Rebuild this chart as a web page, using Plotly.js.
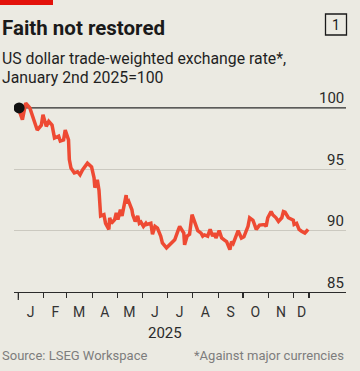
<!DOCTYPE html>
<html>
<head>
<meta charset="utf-8">
<script src="https://cdn.plot.ly/plotly-3.0.1.min.js"></script>
<style>
html,body{margin:0;padding:0;background:#ebeae2;}
#chart{width:360px;height:371px;}
</style>
</head>
<body>
<div id="chart"></div>
<script>
// ---- data ----
const dates = [
 '2025-01-02','2025-01-03','2025-01-06','2025-01-10','2025-01-15','2025-01-17','2025-01-21','2025-01-24','2025-01-29','2025-01-31',
 '2025-02-04','2025-02-07','2025-02-11','2025-02-13','2025-02-14','2025-02-19','2025-02-21','2025-02-25','2025-02-27',
 '2025-03-03','2025-03-04','2025-03-06','2025-03-10','2025-03-14','2025-03-17','2025-03-20','2025-03-26','2025-03-31',
 '2025-04-03','2025-04-04','2025-04-07','2025-04-09','2025-04-11','2025-04-15','2025-04-17','2025-04-21','2025-04-22','2025-04-24','2025-04-28','2025-04-30',
 '2025-05-02','2025-05-05','2025-05-07','2025-05-12','2025-05-13','2025-05-15','2025-05-19','2025-05-20','2025-05-23','2025-05-26','2025-05-28','2025-05-30',
 '2025-06-02','2025-06-05','2025-06-06','2025-06-11','2025-06-13','2025-06-16','2025-06-19','2025-06-23','2025-06-25','2025-06-30',
 '2025-07-03','2025-07-07','2025-07-10','2025-07-14','2025-07-16','2025-07-21','2025-07-22','2025-07-25','2025-07-28','2025-07-31',
 '2025-08-04','2025-08-07','2025-08-11','2025-08-13','2025-08-15','2025-08-19','2025-08-22','2025-08-25','2025-08-27','2025-08-29',
 '2025-09-02','2025-09-05','2025-09-08','2025-09-11','2025-09-15','2025-09-17','2025-09-19','2025-09-23','2025-09-25','2025-09-29',
 '2025-10-02','2025-10-07','2025-10-09','2025-10-13','2025-10-15','2025-10-17','2025-10-21','2025-10-24','2025-10-27','2025-10-29','2025-10-31',
 '2025-11-04','2025-11-06','2025-11-10','2025-11-13','2025-11-17','2025-11-19','2025-11-21','2025-11-25',
 '2025-12-01','2025-12-02','2025-12-05','2025-12-08','2025-12-11','2025-12-15','2025-12-17','2025-12-19'
];
const values = [
 100.0,99.6,99.05,100.4,100.0,99.6,98.9,98.2,98.6,99.45,
 98.5,98.9,98.6,98.0,97.55,97.7,97.3,97.4,98.2,
 97.4,95.8,95.1,94.7,94.8,94.55,94.95,95.5,95.2,
 94.3,93.5,94.15,93.3,91.2,91.3,90.6,90.1,91.05,90.6,90.9,91.45,
 90.9,91.7,91.2,92.9,92.25,92.4,91.7,91.3,90.75,91.2,90.6,90.7,
 90.35,90.6,90.5,90.6,89.7,90.35,90.2,89.55,89.0,88.6,
 88.8,89.1,89.25,90.0,90.35,89.8,88.85,89.55,89.7,91.3,
 90.5,90.0,89.8,89.55,89.65,89.55,90.1,89.55,89.8,89.4,
 90.0,89.4,89.25,89.1,88.45,89.1,88.95,89.55,90.0,89.4,
 89.5,90.35,91.05,90.85,90.35,90.1,90.45,90.5,90.5,90.35,91.05,
 91.55,91.3,91.05,90.75,91.05,91.55,91.5,91.05,
 90.85,90.5,90.6,90.1,89.95,89.8,89.95,90.1
];
const monthStarts = ['2025-01-01','2025-02-01','2025-03-01','2025-04-01','2025-05-01','2025-06-01',
  '2025-07-01','2025-08-01','2025-09-01','2025-10-01','2025-11-01','2025-12-01','2025-12-20'];
const monthMids = ['2025-01-16','2025-02-15','2025-03-16','2025-04-16','2025-05-16','2025-06-16',
  '2025-07-16','2025-08-16','2025-09-16','2025-10-16','2025-11-16','2025-12-11'];
const monthLabels = ['J','F','M','A','M','J','J','A','S','O','N','D'];
const yTicks = [85, 90, 95, 100];
const yearLabel = '2025';
const baseValue = 100;

// ---- layout helpers ----
const W = 360, H = 371, T = 92, B = 79;
const PH = H - T - B;
const py = p => (H - B - p) / PH;   // pixel y -> paper y
const FONT = 'Roboto, sans-serif';
const xRange = ['2024-12-26 19:00', '2026-02-03 00:00'];

const traces = [
  {x: dates, y: values, type: 'scatter', mode: 'lines',
   line: {color: '#ee4a33', width: 3.5, shape: 'linear'}, hoverinfo: 'skip'},
  {x: [dates[0]], y: [values[0]], type: 'scatter', mode: 'markers',
   marker: {color: '#111111', size: 11}, hoverinfo: 'skip'}
];

const annotations = [];
function txt(text, x, yp, size, opts) {
  annotations.push(Object.assign({
    text: text, xref: 'paper', yref: 'paper', x: x, y: py(yp),
    xanchor: 'left', yanchor: 'middle', showarrow: false,
    font: {family: FONT, size: size, color: '#1a1a1a'}
  }, opts || {}));
}
txt('<b>Faith not restored</b>', -14/332, 27.5, 20.5);
txt('US dollar trade-weighted exchange rate*,', -14/332, 58, 15.8, {font:{family:FONT,size:15.8,color:'#1f1f1f'}});
txt('January 2nd 2025=100', -14/332, 77, 15.8, {font:{family:FONT,size:15.8,color:'#1f1f1f'}});
txt('1', (336-14)/332, 25, 14, {xanchor:'center'});
txt(yearLabel, (165-14)/332, 332.5, 15, {xanchor:'center', font:{family:FONT,size:15,color:'#2a2a2a'}});
txt('Source: LSEG Workspace', -14/332, 355, 13, {font:{family:FONT,size:13,color:'#7d7d7d'}});
txt('*Against major currencies', 1, 355, 13, {xanchor:'right', font:{family:FONT,size:13,color:'#7d7d7d'}});
yTicks.forEach(v => annotations.push({
  text: String(v), xref: 'paper', yref: 'y', x: 1, y: v, xanchor: 'right', yanchor: 'middle',
  yshift: 9.5, showarrow: false, font: {family: FONT, size: 15, color: '#2a2a2a'}
}));

const shapes = [
  {type: 'rect', xref: 'paper', yref: 'paper', x0: -14/332, x1: (53-14)/332, y0: py(5), y1: py(-1),
   fillcolor: '#e3120b', line: {width: 0}},
  {type: 'rect', xref: 'paper', yref: 'paper', x0: (325.5-14)/332, x1: (346.5-14)/332, y0: py(35), y1: py(14),
   fillcolor: 'rgba(0,0,0,0)', line: {color: '#1a1a1a', width: 1.3}},
  {type: 'line', xref: 'x', yref: 'y', x0: dates[0], x1: xRange[1], y0: baseValue, y1: baseValue,
   line: {color: '#2b2b2b', width: 1.3}, layer: 'below'},
  {type: 'line', xref: 'x', yref: 'paper', x0: monthStarts[0], x1: monthStarts[0], y0: 0, y1: -8/PH,
   line: {color: '#2b2b2b', width: 1.2}}
];

const layout = {
  width: W, height: H,
  margin: {l: 14, r: 14, t: T, b: B, pad: 0},
  paper_bgcolor: '#ebeae2', plot_bgcolor: '#ebeae2',
  showlegend: false,
  xaxis: {
    type: 'date', range: xRange, fixedrange: true,
    tickmode: 'array', tickvals: monthMids, ticktext: monthLabels,
    ticks: '', ticklabelstandoff: 7,
    tickfont: {family: FONT, size: 14, color: '#333333'},
    showgrid: false, zeroline: false,
    showline: true, linecolor: '#2b2b2b', linewidth: 1.3,
    minor: {tickmode: 'array', tickvals: monthStarts, ticks: 'outside', ticklen: 5,
            tickwidth: 1.2, tickcolor: '#2b2b2b', showgrid: false}
  },
  yaxis: {
    range: [85, 85 + PH / 12.27], fixedrange: true,
    tickmode: 'array', tickvals: [85, 90, 95],
    showticklabels: false, ticks: '',
    showgrid: true, gridcolor: '#cbc9c0', gridwidth: 1.5,
    zeroline: false, showline: false
  },
  shapes: shapes,
  annotations: annotations
};

Plotly.newPlot('chart', traces, layout, {displayModeBar: false, staticPlot: true});
</script>
</body>
</html>
